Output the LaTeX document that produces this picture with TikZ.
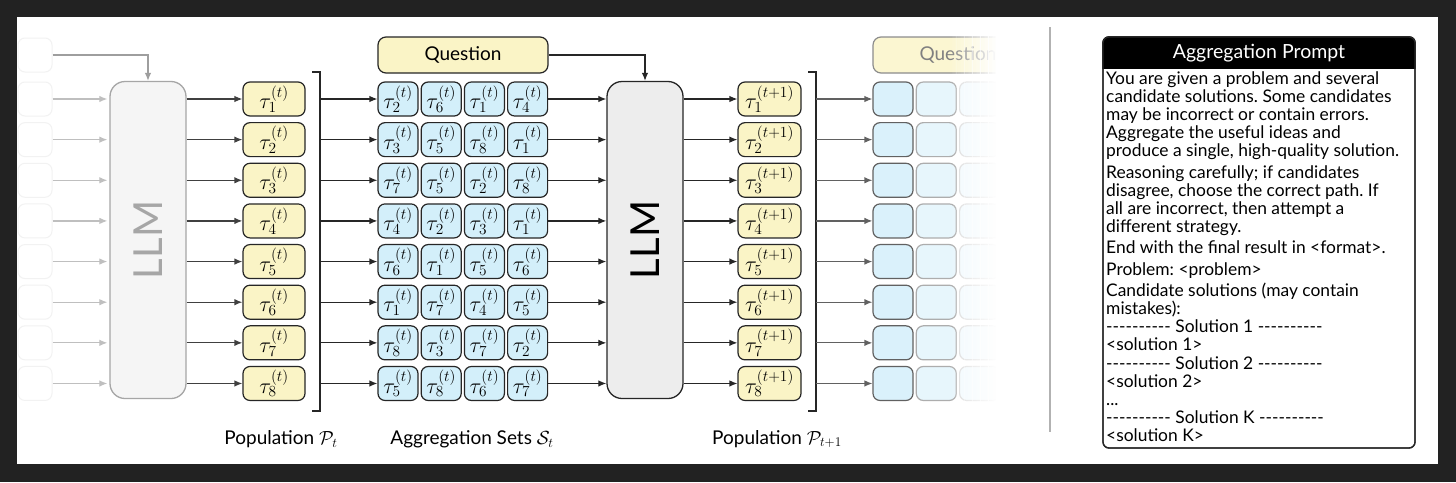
\documentclass[tikz,border=0pt]{standalone}
\usepackage{fix-cm}
\usepackage{fontspec}
\setsansfont{Lato}
\newfontfamily\pfont{Lato}
\usetikzlibrary{arrows.meta,calc}
\definecolor{ybox}{HTML}{FAF4C6}
\definecolor{bbox}{HTML}{D3EFFA}
\definecolor{frame}{HTML}{222222}
\newcommand\hyrow{-\kern0pt-\kern0pt-\kern0pt-\kern0pt-\kern0pt-\kern0pt-\kern0pt-\kern0pt-\kern0pt-}
\tikzset{
  tbox/.style={draw=black!85, line width=1.2pt, rounded corners=7pt, fill=ybox,
    minimum width=62pt, minimum height=34pt, inner sep=0pt,
    font=\fontsize{22}{24}\selectfont},
  sbox/.style={tbox, fill=bbox, minimum width=40pt},
  llmbox/.style={draw=black!85, line width=1.3pt, rounded corners=15pt, fill=black!7,
    minimum width=76pt, minimum height=317pt, inner sep=0pt},
  llmtext/.style={rotate=90, font=\sffamily\fontsize{40}{40}\selectfont},
  arr/.style={-{Latex[length=8pt,width=6.5pt]}, line width=1.2pt, draw=black!85},
  garr/.style={-{Latex[length=8pt,width=6.5pt]}, line width=1.2pt, draw=black!25},
  farr/.style={-{Latex[length=8pt,width=6.5pt]}, line width=1.2pt, draw=black!62},
  lab/.style={font=\sffamily\fontsize{19}{22}\selectfont},
  ghost/.style={draw=black!5, line width=1pt, rounded corners=7pt,
    minimum width=34pt, minimum height=34pt},
}
\begin{document}
\begin{tikzpicture}[x=1pt,y=-1pt]
\useasboundingbox (0,0) rectangle (1456,482);
\fill[frame] (0,0) rectangle (1456,482);
\fill[white] (17,17) rectangle (1438,464);

% ---------- ghost inputs on the left ----------
\node[ghost] (gq) at (35,55) {};
\node[llmbox, draw=black!35, fill=black!4] (llmA) at (148,240) {};
\node[llmtext, text=black!35] (llmAt) at (llmA) {LLM};
\draw[garr, draw=black!38] (gq.east) -| (llmA.north);

% ---------- Question ----------
\node[tbox, minimum width=170pt, minimum height=36pt, rounded corners=8pt,
      font=\sffamily\fontsize{19}{22}\selectfont] (q) at (463,55) {Question};
\node[llmbox] (llmB) at (645,240) {};
\node[llmtext] (llmBt) at (llmB) {LLM};
\draw[arr] (q.east) -| (llmB.north);

% ---------- brackets ----------
\coordinate (b1t) at (320,72);
\coordinate (b1b) at (320,411);
\draw[line width=1.3pt, black!85] ([xshift=-8pt]b1t) -- (b1t) -- (b1b) -- ([xshift=-8pt]b1b);
\coordinate (b2t) at (816,72);
\coordinate (b2b) at (816,411);
\draw[line width=1.3pt, black!85] ([xshift=-8pt]b2t) -- (b2t) -- (b2b) -- ([xshift=-8pt]b2b);

% ---------- rows ----------
\foreach \i/\a/\b/\c/\d in {1/2/6/1/4, 2/3/5/8/1, 3/7/5/2/8, 4/4/2/3/1,
                             5/6/1/5/6, 6/1/7/4/5, 7/8/3/7/2, 8/5/8/6/7} {
  \pgfmathsetmacro\yy{99+40.64*(\i-1)}
  \node[ghost] (g\i) at (35,\yy) {};
  \draw[garr] (g\i.east) -- ([xshift=-2pt]llmA.west |- g\i);
  \node[tbox] (p\i) at (274,\yy) {$\tau_{\i}^{(t)}$};
  \draw[arr, draw=black!75] (llmA.east |- p\i) -- (p\i.west);
  \foreach [count=\j] \k in {\a,\b,\c,\d} {
    \node[sbox] (s\i-\j) at ({398+43.2*(\j-1)},\yy) {$\tau_{\k}^{(t)}$};
  }
  \draw[arr] (b1t |- s\i-1) -- (s\i-1.west);
  \draw[arr] (s\i-4.east) -- (llmB.west |- s\i-4);
  \node[tbox, minimum width=63pt] (n\i) at (769.5,\yy) {$\tau_{\i}^{(t+1)}$};
  \draw[arr] (llmB.east |- n\i) -- (n\i.west);
  \node[sbox, draw=black!62, fill=bbox!85] (f\i-1) at (893,\yy) {};
  \node[sbox, draw=black!32, fill=bbox!55] (f\i-2) at (936.3,\yy) {};
  \node[sbox, draw=black!14, fill=bbox!30] (f\i-3) at (979.6,\yy) {};
  \draw[farr] (b2t |- f\i-1) -- (f\i-1.west);
}
\node[tbox, draw=black!45, fill=ybox!80, minimum width=170pt, minimum height=36pt,
      rounded corners=8pt, text=black!50,
      font=\sffamily\fontsize{19}{22}\selectfont] (fq) at (958,55) {Question};

% ---------- fade on the right ----------
\foreach \k in {0,...,29} {
  \fill[white, opacity={(\k+1)/30}] ({950+1.6*\k},30) rectangle ({951.7+1.6*\k},425);
}
\fill[white] (998,30) rectangle (1045,425);

% ---------- labels ----------
\node[lab] (lp) at (281,439) {Population $\mathcal{P}_t$};
\node[lab] (la) at (472,439) {Aggregation Sets $\mathcal{S}_t$};
\node[lab] (lp2) at (777,439) {Population $\mathcal{P}_{t+1}$};

% ---------- divider ----------
\draw[black!30, line width=1.2pt] (1050,27) -- (1050,432);

% ---------- prompt ----------
\node[draw=black!85, line width=1.3pt, rounded corners=6pt, minimum width=312pt,
      minimum height=411pt, inner sep=0pt] (prompt) at (1259,242.5) {};
\begin{scope}
  \clip[rounded corners=6pt] (prompt.north west) rectangle (prompt.south east);
  \fill[black] (prompt.north west) rectangle ([yshift=-33pt]prompt.north east);
\end{scope}
\node[draw=black!85, line width=1.3pt, rounded corners=6pt, minimum width=312pt,
      minimum height=411pt, inner sep=0pt] at (prompt) {};
\node[text=white, font=\pfont\fontsize{19.5}{22}\selectfont] (ptitle) at (1259,53.5) {Aggregation Prompt};
\node[anchor=north west, align=left, inner sep=0pt,
      font=\pfont\fontsize{17.4}{18.2}\selectfont\frenchspacing] (pbody) at (1106,71) {%
You are given a problem and several\\
candidate solutions. Some candidates\\
may be incorrect or contain errors.\\
Aggregate the useful ideas and\\
produce a single, high-quality solution.\\[3pt]
Reasoning carefully; if candidates\\
disagree, choose the correct path. If\\
all are incorrect, then attempt a\\
different strategy.\\[3pt]
End with the final result in <format>.\\[3pt]
Problem: <problem>\\[3pt]
Candidate solutions (may contain\\
mistakes):\\
\hyrow{} Solution 1 \hyrow\\
<solution 1>\\
\hyrow{} Solution 2 \hyrow\\
<solution 2>\\
...\\
\hyrow{} Solution K \hyrow\\
<solution K>};
\end{tikzpicture}
\end{document}
